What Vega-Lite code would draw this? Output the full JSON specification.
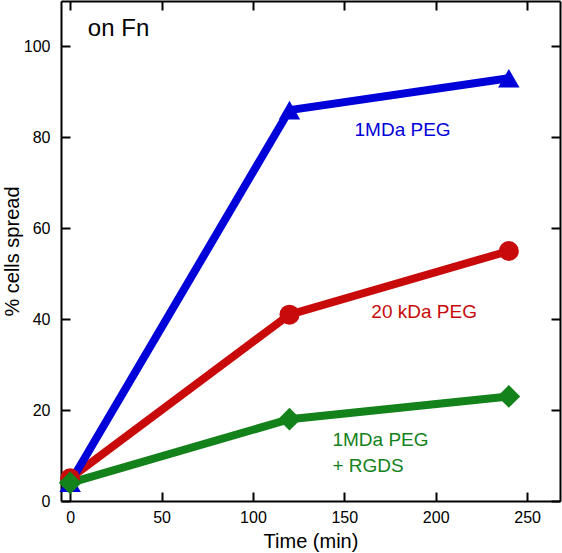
{
  "$schema": "https://vega.github.io/schema/vega-lite/v6.json",
  "autosize": {"type": "none"},
  "padding": {"left": 61, "top": 1, "right": 2, "bottom": 52},
  "width": 499,
  "height": 500,
  "config": {
    "font": "Liberation Sans",
    "view": {"stroke": null},
    "axis": {
      "grid": false,
      "domainColor": "black",
      "domainWidth": 2,
      "tickColor": "black",
      "tickWidth": 2,
      "tickSize": -9,
      "labelFont": "Liberation Sans",
      "labelFontSize": 16,
      "labelColor": "black",
      "titleFont": "Liberation Sans",
      "titleFontSize": 20,
      "titleFontWeight": "normal",
      "titleColor": "black"
    }
  },
  "datasets": {
    "pts": [
      {"s": "A", "t": 0, "v": 5},
      {"s": "A", "t": 120, "v": 41},
      {"s": "A", "t": 240, "v": 55},
      {"s": "B", "t": 0, "v": 4},
      {"s": "B", "t": 120, "v": 86},
      {"s": "B", "t": 240, "v": 93},
      {"s": "C", "t": 0, "v": 4},
      {"s": "C", "t": 120, "v": 18},
      {"s": "C", "t": 240, "v": 23}
    ],
    "labels": [
      {"s": "K", "t": 9.7, "v": 103.8, "txt": "on Fn", "fs": 24},
      {"s": "B", "t": 155.6, "v": 81.7, "txt": "1MDa PEG", "fs": 19},
      {"s": "A", "t": 164.8, "v": 41.5, "txt": "20 kDa PEG", "fs": 19},
      {"s": "C", "t": 143.5, "v": 13.5, "txt": "1MDa PEG", "fs": 19},
      {"s": "C", "t": 143.5, "v": 7.7, "txt": "+ RGDS", "fs": 19}
    ]
  },
  "layer": [
    {
      "layer": [
        {
          "data": {"name": "pts"},
          "mark": {"type": "line", "strokeWidth": 8},
          "encoding": {
            "x": {"field": "t", "type": "quantitative", "scale": {"domain": [-5, 268], "nice": false, "zero": false},
              "axis": {"values": [0, 50, 100, 150, 200, 250], "title": "Time (min)", "labelPadding": 17, "titlePadding": 6}},
            "y": {"field": "v", "type": "quantitative", "scale": {"domain": [0, 110], "nice": false},
              "axis": {"values": [0, 20, 40, 60, 80, 100], "title": "% cells spread", "labelPadding": 20, "titlePadding": 1}},
            "color": {"field": "s", "type": "nominal", "legend": null,
              "scale": {"domain": ["A", "B", "C", "K"], "range": ["#c80a0a", "#0000d8", "#13821a", "#000000"]}}
          }
        },
        {
          "data": {"name": "pts"},
          "mark": {"type": "point", "filled": true, "opacity": 1},
          "encoding": {
            "x": {"field": "t", "type": "quantitative"},
            "y": {"field": "v", "type": "quantitative"},
            "color": {"field": "s", "type": "nominal", "legend": null},
            "shape": {"field": "s", "type": "nominal", "legend": null,
              "scale": {"domain": ["A", "B", "C"], "range": ["circle", "triangle-up", "diamond"]}},
            "size": {"field": "s", "type": "nominal", "legend": null,
              "scale": {"domain": ["A", "B", "C"], "range": [400, 520, 530]}}
          }
        },
        {
          "data": {"name": "labels"},
          "mark": {"type": "text", "align": "left", "baseline": "middle", "font": "Liberation Sans"},
          "encoding": {
            "x": {"field": "t", "type": "quantitative"},
            "y": {"field": "v", "type": "quantitative"},
            "text": {"field": "txt"},
            "color": {"field": "s", "type": "nominal", "legend": null},
            "size": {"field": "fs", "type": "quantitative", "scale": null, "legend": null}
          }
        }
      ]
    },
    {
      "data": {"name": "pts"},
      "mark": {"type": "point", "opacity": 0},
      "encoding": {
        "x": {"field": "t", "type": "quantitative", "axis": {"values": [0, 50, 100, 150, 200, 250], "labels": false, "title": null}},
        "y": {"field": "v", "type": "quantitative", "axis": {"values": [0, 20, 40, 60, 80, 100], "labels": false, "title": null}}
      }
    }
  ],
  "resolve": {"axis": {"x": "independent", "y": "independent"}}
}
